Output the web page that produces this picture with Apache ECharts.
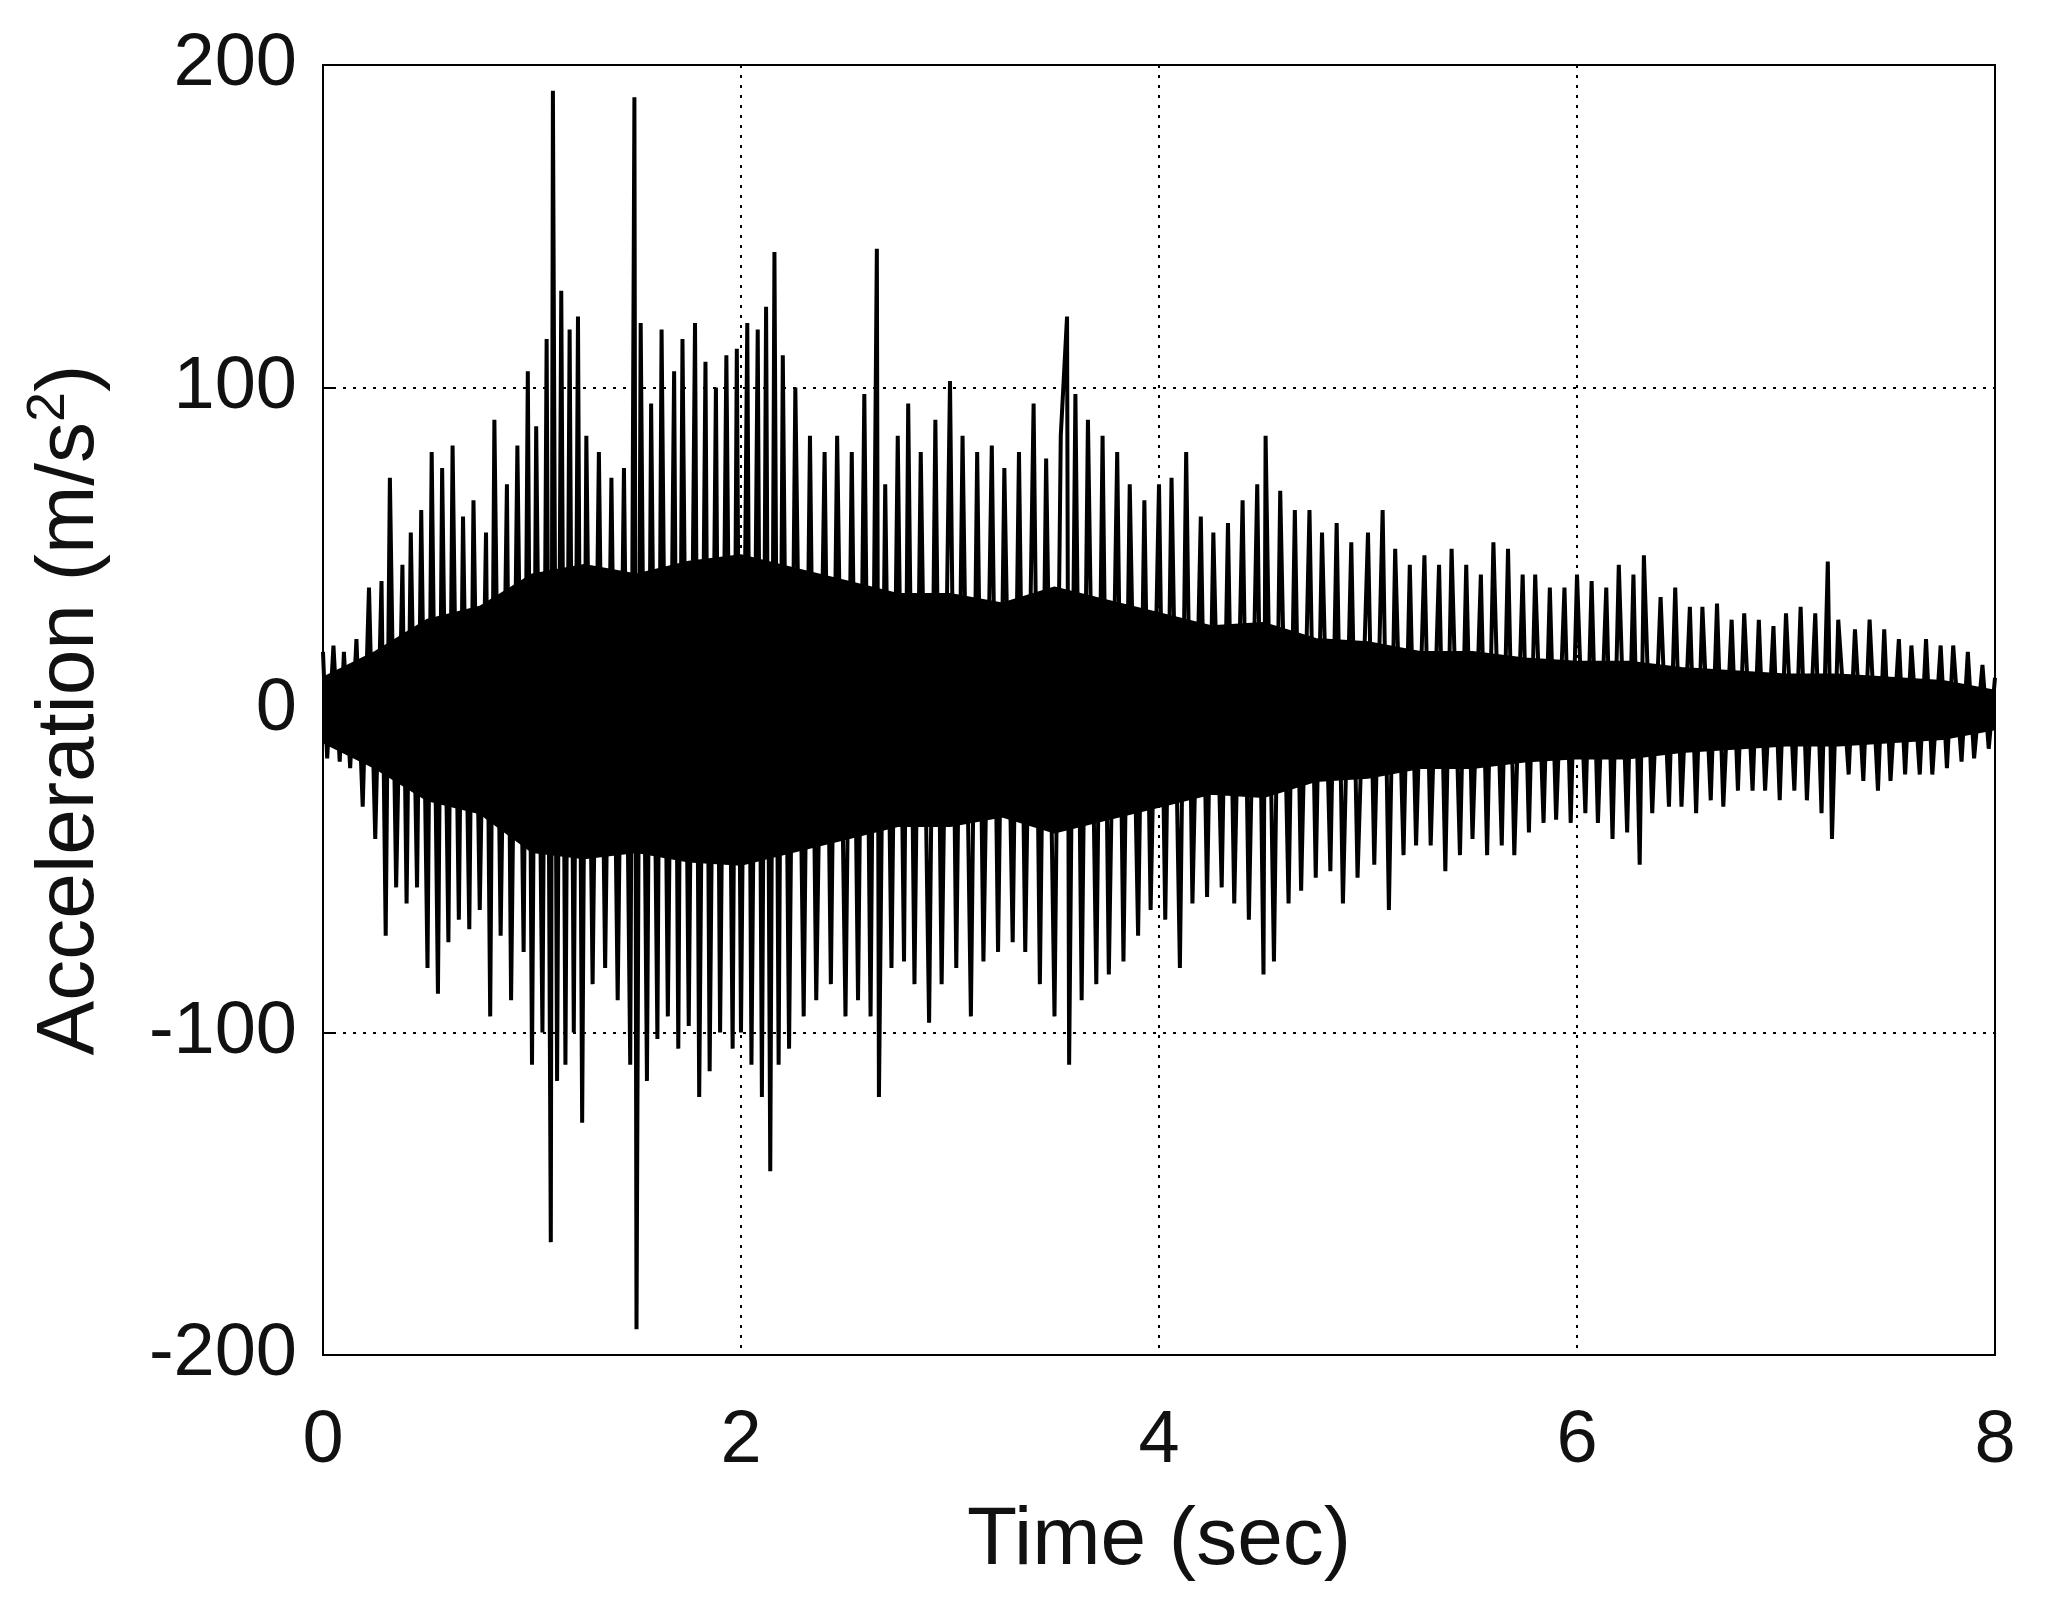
<!DOCTYPE html>
<html><head><meta charset="utf-8">
<script src="https://cdn.jsdelivr.net/npm/echarts@6/dist/echarts.min.js"></script>
<style>html,body{margin:0;padding:0;background:#fff}#c{width:2046px;height:1619px}</style>
</head><body><div id="c"></div>
<script>
// Trace peaks: alternating [time (s), acceleration (m/s^2)]
const tracePoints = [
[0,18],[0.02,-15],[0.05,20],[0.08,-16],[0.1,18],[0.13,-18],[0.16,22],[0.19,-30],[0.22,38],[0.25,-40],
[0.28,40],[0.3,-70],[0.32,72],[0.35,-55],[0.38,45],[0.4,-60],[0.42,55],[0.45,-55],[0.47,62],[0.5,-80],
[0.52,80],[0.55,-88],[0.57,75],[0.6,-72],[0.62,82],[0.65,-65],[0.67,60],[0.7,-68],[0.72,65],[0.75,-62],
[0.78,55],[0.8,-95],[0.82,90],[0.85,-70],[0.88,70],[0.9,-90],[0.93,82],[0.96,-75],[0.98,105],[1.0,-110],
[1.02,88],[1.05,-100],[1.07,115],[1.09,-165],[1.1,192],[1.12,-115],[1.14,130],[1.16,-110],[1.18,118],[1.2,-100],
[1.22,122],[1.24,-128],[1.26,85],[1.29,-85],[1.32,80],[1.35,-80],[1.38,72],[1.41,-90],[1.44,75],[1.47,-110],
[1.49,190],[1.5,-192],[1.52,120],[1.55,-115],[1.57,95],[1.6,-102],[1.62,118],[1.65,-95],[1.68,105],[1.7,-105],
[1.72,115],[1.75,-98],[1.78,120],[1.8,-120],[1.83,108],[1.85,-112],[1.88,100],[1.9,-100],[1.93,110],[1.96,-105],
[1.98,112],[2.0,-100],[2.03,120],[2.05,-110],[2.08,118],[2.1,-120],[2.12,125],[2.14,-143],[2.16,142],[2.18,-110],
[2.2,110],[2.23,-105],[2.26,100],[2.3,-95],[2.33,85],[2.36,-90],[2.4,80],[2.43,-85],[2.46,85],[2.5,-95],
[2.53,80],[2.56,-90],[2.59,98],[2.62,-95],[2.65,143],[2.66,-120],[2.69,70],[2.72,-80],[2.75,85],[2.78,-78],
[2.8,95],[2.83,-85],[2.86,80],[2.9,-97],[2.93,90],[2.96,-85],[3.0,102],[3.03,-80],[3.06,85],[3.1,-95],
[3.13,80],[3.16,-78],[3.2,82],[3.23,-75],[3.26,75],[3.3,-72],[3.33,80],[3.36,-75],[3.4,95],[3.43,-85],
[3.46,78],[3.5,-95],[3.53,85],[3.56,122],[3.57,-110],[3.6,98],[3.63,-90],[3.66,90],[3.7,-85],[3.73,85],
[3.76,-82],[3.8,80],[3.83,-78],[3.86,70],[3.9,-70],[3.93,65],[3.96,-62],[4.0,70],[4.03,-65],[4.06,72],
[4.1,-80],[4.13,80],[4.16,-60],[4.2,60],[4.23,-58],[4.26,55],[4.3,-55],[4.33,58],[4.36,-60],[4.4,65],
[4.43,-65],[4.47,70],[4.5,-82],[4.51,85],[4.55,-78],[4.58,68],[4.62,-60],[4.65,62],[4.68,-56],[4.72,62],
[4.75,-52],[4.78,55],[4.82,-50],[4.85,58],[4.88,-60],[4.92,52],[4.95,-52],[5.0,55],[5.03,-48],[5.07,62],
[5.1,-62],[5.13,50],[5.17,-45],[5.2,45],[5.23,-42],[5.27,48],[5.3,-42],[5.34,45],[5.37,-50],[5.4,50],
[5.44,-45],[5.47,45],[5.5,-40],[5.54,42],[5.57,-45],[5.6,52],[5.64,-42],[5.67,50],[5.7,-45],[5.74,42],
[5.77,-38],[5.8,42],[5.84,-35],[5.87,38],[5.9,-34],[5.94,38],[5.97,-35],[6.0,42],[6.04,-32],[6.07,40],
[6.1,-35],[6.14,38],[6.17,-40],[6.2,45],[6.24,-38],[6.27,42],[6.3,-48],[6.32,48],[6.36,-32],[6.4,35],
[6.44,-30],[6.47,38],[6.5,-30],[6.54,32],[6.57,-32],[6.6,32],[6.64,-28],[6.67,33],[6.7,-30],[6.74,28],
[6.77,-25],[6.8,30],[6.84,-25],[6.87,28],[6.9,-25],[6.94,26],[6.97,-28],[7.0,30],[7.04,-25],[7.07,32],
[7.1,-28],[7.14,30],[7.17,-32],[7.2,46],[7.22,-40],[7.25,28],[7.3,-20],[7.33,25],[7.37,-22],[7.4,28],
[7.44,-25],[7.47,25],[7.5,-22],[7.54,22],[7.57,-20],[7.6,20],[7.64,-20],[7.67,22],[7.7,-20],[7.74,20],
[7.77,-18],[7.8,20],[7.84,-16],[7.87,18],[7.9,-15],[7.94,14],[7.97,-12],[8.0,10]
];
// Solid body of the record (upper and lower edge of the filled region)
const coreTimes = [0,0.25,0.5,0.75,1,1.25,1.5,1.75,2,2.25,2.5,2.75,3,3.25,3.5,3.75,4,4.25,4.5,4.75,5,5.25,5.5,5.75,6,6.25,6.5,6.75,7,7.25,7.5,7.75,8];
const coreUpper = [10,18,28,32,42,45,42,46,48,44,40,36,36,33,38,34,30,26,27,22,21,18,18,16,15,15,13,12,11,11,10,9,6];
const coreLower = [-10,-18,-28,-32,-44,-46,-44,-47,-48,-44,-40,-36,-36,-33,-38,-34,-30,-26,-27,-22,-21,-18,-18,-16,-15,-15,-13,-12,-11,-11,-10,-9,-6];
const xTicks = [0,2,4,6,8];
const yTicks = [-200,-100,0,100,200];

const chart = echarts.init(document.getElementById('c'));
const font = 'Liberation Sans, Arial, sans-serif';
const up = coreTimes.map((t,i)=>[t,coreUpper[i]]);
const lo = coreTimes.map((t,i)=>[t,coreLower[i]]);
chart.setOption({
  animation:false,
  backgroundColor:'#fff',
  grid:{left:323,right:51,top:65,bottom:264,show:true,borderColor:'#000',borderWidth:2},
  xAxis:{type:'value',min:0,max:8,interval:2,
    name:'Time (sec)',nameLocation:'middle',nameGap:145,
    nameTextStyle:{fontFamily:font,fontSize:82,color:'#111'},
    axisLine:{show:false},axisTick:{show:true,inside:true,length:12,lineStyle:{color:'#000',width:2}},
    axisLabel:{fontFamily:font,fontSize:74,color:'#111',margin:50,formatter:v=>xTicks.includes(v)?String(v):''},
    splitLine:{show:true,lineStyle:{type:[3,7],color:'#000',width:2}}},
  yAxis:{type:'value',min:-200,max:200,interval:100,
    name:'Acceleration (m/s{sup|2})',nameLocation:'middle',nameGap:205,nameRotate:90,
    nameTextStyle:{fontFamily:font,fontSize:82,color:'#111',rich:{sup:{fontFamily:font,fontSize:54,color:'#111',verticalAlign:'top',padding:[0,0,42,0]}}},
    axisLine:{show:false},axisTick:{show:true,inside:true,length:12,lineStyle:{color:'#000',width:2}},
    axisLabel:{fontFamily:font,fontSize:74,color:'#111',margin:26,formatter:v=>yTicks.includes(v)?String(v):''},
    splitLine:{show:true,lineStyle:{type:[3,7],color:'#000',width:2}}},
  series:[
    {type:'line',data:up,symbol:'none',lineStyle:{width:2,color:'#000'},areaStyle:{color:'#000',opacity:1,origin:0},z:2},
    {type:'line',data:lo,symbol:'none',lineStyle:{width:2,color:'#000'},areaStyle:{color:'#000',opacity:1,origin:0},z:2},
    {type:'line',data:tracePoints,symbol:'none',lineStyle:{width:4,color:'#000'},z:3}
  ]
});
</script></body></html>
